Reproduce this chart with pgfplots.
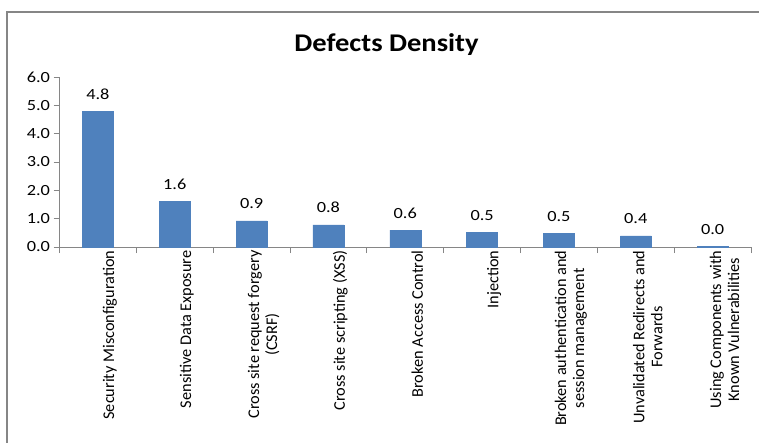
\documentclass[border=0pt]{standalone}
\usepackage{fontspec}
\setmainfont{Carlito}
\newfontfamily\wide{Carlito}[FakeStretch=1.18]
\newfontfamily\titlefont{Carlito}[FakeStretch=1.12]
\usepackage{pgfplots}
\pgfplotsset{compat=1.18}
\definecolor{barblue}{HTML}{4F81BD}
\definecolor{axgray}{HTML}{868686}
\begin{document}
\begin{tikzpicture}[x=1pt,y=1pt]
\useasboundingbox (0,0) rectangle (759,442);
\draw[axgray, line width=1.2pt] (7,-5) -- (7,430) -- (765,430);
\node[anchor=base, inner sep=0pt, font=\titlefont\bfseries\fontsize{25.5}{30}\selectfont] at (386.5,390.3) {Defects Density};
\begin{axis}[
  at={(59.5pt,195pt)}, anchor=south west, scale only axis,
  width=691.5pt, height=170pt,
  ybar, bar width=31pt, clip=false,
  xmin=-0.5, xmax=8.5, ymin=0, ymax=6,
  axis x line*=bottom, axis y line*=left,
  axis line style={axgray, line width=0.8pt},
  tick style={axgray, line width=0.8pt},
  tick align=outside, major tick length=6pt,
  ytick={0,1,...,6},
  yticklabel style={font=\wide\fontsize{15.5}{17}\selectfont,
    /pgf/number format/.cd, fixed, fixed zerofill, precision=1, assume math mode=true},
  xtick={-0.5,0.5,...,8.5}, xticklabels={},
  extra x ticks={0,1,...,8},
  extra x tick labels={Security Misconfiguration, Sensitive Data Exposure, {Cross site request forgery\\(CSRF)}, Cross site scripting (XSS), Broken Access Control, Injection, {Broken authentication and\\session management}, {Unvalidated Redirects and\\Forwards}, {Using Components with\\Known Vulnerabilities}},
  extra x tick style={major tick length=0pt, xticklabel style={rotate=90, anchor=east, align=center, yshift=-12pt, font=\fontsize{16.3}{18}\selectfont}},
  nodes near coords={\pgfmathprintnumber[fixed,fixed zerofill,precision=1,assume math mode=true]{\pgfplotspointmeta}},
  every node near coord/.append style={anchor=base, inner sep=0pt, yshift=12pt, font=\wide\fontsize{15.5}{17}\selectfont, text=black},
]
\addplot[fill=barblue, draw=barblue] coordinates {(0,4.78) (1,1.62) (2,0.92) (3,0.78) (4,0.60) (5,0.52) (6,0.48) (7,0.39) (8,0.03)};
\end{axis}
\end{tikzpicture}
\end{document}
